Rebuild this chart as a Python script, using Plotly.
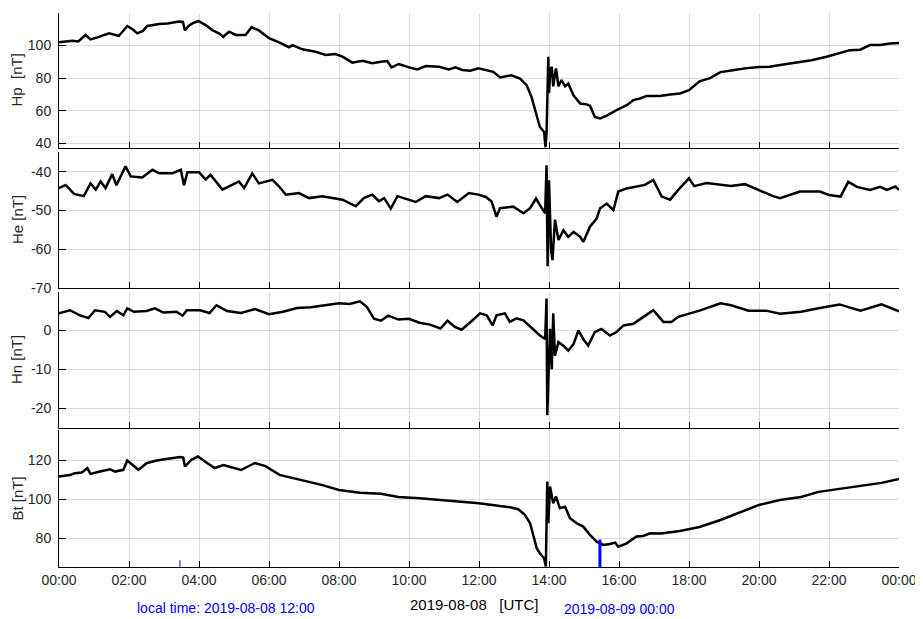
import pandas as pd
import plotly.graph_objects as go

# ---------------- data (hours UTC since 2019-08-08 00:00, values in nT) -------------
hp_h = [0, 0.19, 0.38, 0.55, 0.76, 0.9, 1.1, 1.43, 1.6, 1.71, 1.95, 2.1, 2.24, 2.4, 2.52, 2.86, 3.1,
        3.43, 3.54, 3.6, 3.7, 3.81, 3.98, 4.19, 4.38, 4.57, 4.69, 4.86, 5.05, 5.33, 5.5, 5.71, 6.0,
        6.29, 6.57, 6.67, 6.95, 7.33, 7.62, 7.9, 8.1, 8.38, 8.67, 8.95, 9.2, 9.38, 9.5, 9.71, 10.0,
        10.24, 10.48, 10.86, 11.14, 11.33, 11.52, 11.75, 11.98, 12.2, 12.41, 12.6, 12.93, 13.17,
        13.36, 13.5, 13.6, 13.74, 13.86, 13.9, 13.93, 13.98, 14.0, 14.04, 14.08, 14.12, 14.2, 14.27,
        14.36, 14.46, 14.55, 14.7, 14.89, 15.05, 15.17, 15.31, 15.46, 15.65, 15.93, 16.22, 16.41,
        16.6, 16.79, 17.17, 17.46, 17.74, 18.0, 18.3, 18.6, 18.9, 19.3, 19.6, 20.0, 20.3, 20.6,
        21.17, 21.5, 21.93, 22.31, 22.6, 22.89, 23.17, 23.46, 23.74, 24.0]
hp_v = [102, 102.5, 103, 102.5, 106.5, 103.8, 105, 107.5, 106.5, 105.9, 112, 110, 107.5, 109, 112,
        113.2, 113.5, 114.7, 114.5, 109.3, 112, 113.6, 115.1, 112.6, 109.5, 107.5, 105.4, 108.5,
        106.5, 106.5, 111.2, 109.3, 104.5, 102, 99, 100.3, 97.7, 96.2, 94.2, 94.8, 93.2, 89.5, 90.7,
        89.1, 90, 90.5, 86.6, 88.7, 86.6, 85.4, 87.4, 87, 85.4, 86.6, 85, 84.5, 86, 85, 83.9, 80.4,
        81.8, 79.8, 75.7, 68.5, 60.3, 50, 47, 37.7, 46, 93.1, 71, 85, 87, 75, 86, 75, 78.8, 75,
        76.7, 69.5, 64.4, 64, 63, 56.2, 55.2, 57, 60.3, 63.4, 66.5, 67.5, 69.1, 69, 70, 70.6, 72.6,
        78, 80, 83.7, 85, 86, 86.8, 87, 88, 90, 91, 93.1, 95.2, 97.2, 97.5, 100.3, 100.3, 101.3,
        101.6]

he_h = [0, 0.19, 0.43, 0.71, 0.9, 1.05, 1.19, 1.33, 1.52, 1.64, 1.9, 2.05, 2.38, 2.67, 2.86, 3.24,
        3.48, 3.57, 3.67, 4.0, 4.19, 4.33, 4.67, 4.95, 5.14, 5.29, 5.52, 5.71, 6.1, 6.29, 6.48,
        6.86, 7.14, 7.52, 7.9, 8.1, 8.48, 8.71, 8.95, 9.14, 9.29, 9.48, 9.67, 10.0, 10.19, 10.48,
        10.86, 11.1, 11.38, 11.71, 11.98, 12.2, 12.36, 12.5, 12.6, 12.98, 13.27, 13.46, 13.63,
        13.74, 13.89, 13.93, 13.96, 14.0, 14.06, 14.1, 14.17, 14.27, 14.41, 14.55, 14.7, 14.89,
        14.98, 15.17, 15.36, 15.46, 15.65, 15.84, 15.98, 16.22, 16.5, 16.74, 16.98, 17.22, 17.46,
        17.7, 18.0, 18.15, 18.5, 19.2, 19.6, 20.0, 20.4, 20.6, 21.17, 21.74, 22.0, 22.33, 22.55,
        22.8, 23.17, 23.46, 23.65, 23.9, 24.0]
he_v = [-44.2, -43.4, -45.7, -46.3, -43, -44.6, -42.5, -44.2, -40.6, -43.5, -38.6, -41.2, -41.5,
        -39.5, -40.4, -40.4, -39.5, -43.5, -40.1, -40.1, -42, -40.8, -44.6, -43.4, -42.5, -44.2,
        -40.4, -43, -42.1, -43.8, -45.9, -45.5, -46.8, -46.3, -46.8, -47.2, -48.9, -46.8, -45.9,
        -47.6, -46.8, -49.5, -46.3, -47.2, -47.8, -46.3, -46.8, -45.9, -47.8, -45.5, -45.9, -46.5,
        -47.7, -51.6, -49.4, -49, -50.7, -49.4, -46.9, -48.6, -50.7, -38.3, -64.4, -42.2, -60.2,
        -62.8, -52.4, -57.6, -55.1, -56.8, -55.5, -56.8, -58.1, -54.2, -52.1, -49.4, -48.2, -49.9,
        -45.1, -44.3, -43.8, -43.4, -42.1, -46.4, -47.2, -44.6, -41.7, -43.7, -42.9, -43.7, -43.2,
        -44.7, -46.3, -46.8, -45.1, -45.1, -46, -46.4, -42.6, -43.9, -44.7, -43.9, -44.7, -43.8,
        -44.7]

hn_h = [0, 0.31, 0.6, 0.84, 1.03, 1.31, 1.46, 1.65, 1.84, 1.95, 2.14, 2.5, 2.74, 2.98, 3.36, 3.53,
        3.65, 4.03, 4.3, 4.5, 4.8, 5.2, 5.6, 6.0, 6.4, 6.8, 7.2, 7.6, 8.0, 8.3, 8.6, 8.8, 9.0, 9.2,
        9.4, 9.7, 10.0, 10.3, 10.6, 10.9, 11.1, 11.3, 11.5, 11.8, 12.03, 12.22, 12.39, 12.5, 12.74,
        12.88, 13.07, 13.27, 13.6, 13.74, 13.89, 13.93, 13.95, 14.0, 14.03, 14.08, 14.12, 14.17,
        14.27, 14.41, 14.55, 14.7, 14.84, 14.98, 15.12, 15.31, 15.5, 15.74, 15.93, 16.13, 16.41,
        16.7, 16.98, 17.27, 17.5, 17.69, 18.3, 18.9, 19.2, 19.7, 20.2, 20.6, 21.2, 21.7, 22.3,
        22.9, 23.5, 24.0]
hn_v = [4.4, 5.2, 3.9, 3.2, 5.2, 4.8, 3.5, 5.0, 3.9, 5.7, 4.8, 5.0, 5.7, 4.6, 4.8, 3.8, 5.2, 5.2,
        4.5, 6.5, 5.0, 4.5, 5.5, 4.2, 4.8, 5.8, 6.0, 6.5, 7.0, 6.8, 7.5, 6.0, 3.0, 2.5, 3.8, 2.8,
        3.0, 2.0, 1.5, 0.5, 2.5, 1.0, 0.2, 2.5, 4.4, 3.9, 1.3, 3.9, 4.4, 2.2, 3.1, 2.6, 0, -1.3,
        -2.2, 8.2, -21.8, -5.7, 0.4, -10, 4.4, -6.5, -3, -3.9, -5.2, -3.5, 0, -2.2, -3.9, -0.4,
        0.4, -1.3, -0.4, 1.3, 1.7, 3.5, 5.2, 2.2, 2.2, 3.5, 5.1, 7.0, 6.5, 5.1, 5.1, 4.3, 4.8, 5.7,
        6.7, 5.1, 6.7, 4.9]

bt_h = [0, 0.31, 0.45, 0.65, 0.81, 0.9, 1.17, 1.46, 1.6, 1.84, 1.95, 2.12, 2.27, 2.5, 2.79, 3.07,
        3.45, 3.55, 3.6, 3.78, 3.97, 4.2, 4.45, 4.7, 5.2, 5.6, 5.9, 6.3, 6.9, 7.5, 8.0, 8.6, 9.2,
        9.7, 10.3, 10.9, 11.5, 12.0, 12.6, 12.89, 13.12, 13.31, 13.46, 13.55, 13.65, 13.74, 13.86,
        13.91, 13.95, 13.98, 14.03, 14.12, 14.2, 14.31, 14.46, 14.6, 14.79, 14.98, 15.17, 15.36,
        15.55, 15.74, 15.89, 15.98, 16.22, 16.5, 16.69, 16.89, 17.2, 17.74, 18.3, 18.9, 19.5, 20.0,
        20.6, 21.2, 21.7, 22.3, 22.9, 23.5, 24.0]
bt_v = [111.6, 112.4, 113.3, 113.7, 115.9, 113, 114.2, 115.4, 114.2, 115.1, 119.9, 117.6, 115.1,
        118.5, 119.9, 120.6, 121.6, 121.3, 116.8, 120.2, 121.9, 119, 116, 117.5, 115, 118.6, 117,
        112.5, 110, 107.4, 104.8, 103.3, 102.8, 101.2, 100.5, 99.6, 99, 98, 96.5, 95.9, 94.9, 92,
        87.7, 81.7, 74.9, 72.3, 69.8, 65.5, 109.1, 87.7, 106.5, 98, 101.4, 95.4, 96.2, 90.3, 87.7,
        86, 81.7, 78.3, 76.6, 77.1, 77.8, 75.7, 77.4, 80.9, 81.2, 82.6, 82.5, 83.8, 85.8, 89.4,
        93.5, 97.1, 99.6, 101.2, 103.8, 105.3, 106.8, 108.4, 110.4]

panel_titles = ["Hp\u00a0\u00a0[nT]", "He [nT]", "Hn [nT]", "Bt [nT]"]
y_ranges = [[37.1, 120], [-70, -34.9], [-25.1, 9.9], [65.3, 135.5]]
y_ticks = [[40, 60, 80, 100, 120], [-70, -60, -50, -40], [-20, -10, 0], [80, 100, 120]]
local_marks_h = [3.455, 15.455]   # local noon / local midnight (UTC hours)
x_tick_labels = ["00:00", "02:00", "04:00", "06:00", "08:00", "10:00", "12:00",
                 "14:00", "16:00", "18:00", "20:00", "22:00", "00:00"]

# ---------------- figure ----------------
# the page body has an 8px margin, so the figure is 915x611 and offset accordingly
t0 = pd.Timestamp("2019-08-08 00:00:00")
def to_time(hours):
    return [t0 + pd.Timedelta(hours=h) for h in hours]

series = [(hp_h, hp_v), (he_h, he_v), (hn_h, hn_v), (bt_h, bt_v)]
domains = [[0.7563, 1.0], [0.5036, 0.7491], [0.2509, 0.4964], [0.0, 0.2473]]
FONT = "Arial, 'Liberation Sans', Helvetica, sans-serif"
TXT = "#262626"

fig = go.Figure()
for i, (h, v) in enumerate(series):
    n = "" if i == 0 else str(i + 1)
    fig.add_trace(go.Scatter(x=to_time(h), y=v, mode="lines",
                             line=dict(color="black", width=2.5),
                             xaxis="x" + n, yaxis="y" + n, showlegend=False))

tickvals = [t0 + pd.Timedelta(hours=2 * k) for k in range(13)]
xrange_ = [t0, t0 + pd.Timedelta(hours=24)]
layout = dict(width=915, height=611, paper_bgcolor="white", plot_bgcolor="white",
              margin=dict(l=51, r=24, t=5, b=52, autoexpand=False),
              font=dict(family=FONT, size=14, color=TXT), showlegend=False)
for i in range(4):
    n = "" if i == 0 else str(i + 1)
    layout["xaxis" + n] = dict(
        domain=[0, 1], anchor="y" + n, range=xrange_, tickvals=tickvals,
        ticktext=x_tick_labels, showticklabels=(i == 3), ticks="inside", ticklen=6,
        tickcolor="black", showline=True, linecolor="black", linewidth=1,
        showgrid=True, gridcolor="#dcdcdc", gridwidth=1, zeroline=False,
        ticklabeloverflow="allow",
        matches=None if i == 0 else "x", tickfont=dict(size=14, color=TXT))
    layout["yaxis" + n] = dict(
        domain=domains[i], anchor="x" + n, range=y_ranges[i], tickvals=y_ticks[i],
        ticktext=[str(v) for v in y_ticks[i]],
        ticks="inside", ticklen=7, tickcolor="black", showline=True, linecolor="black",
        linewidth=1, showgrid=True, gridcolor="#dcdcdc", gridwidth=1, zeroline=False,
        ticklabelstandoff=4, tickfont=dict(size=14, color=TXT))
fig.update_layout(**layout)

# y-axis titles
for i, title in enumerate(panel_titles):
    d = domains[i]
    fig.add_annotation(text=title, xref="paper", yref="paper", x=-0.05, y=(d[0] + d[1]) / 2,
                       textangle=-90, showarrow=False, xanchor="center", yanchor="middle",
                       font=dict(size=15, color=TXT))

# local-time markers on the bottom panel
for k, h in enumerate(local_marks_h):
    t = t0 + pd.Timedelta(hours=h)
    fig.add_shape(type="line", xref="x4", yref="y4 domain", x0=t, x1=t, y0=0,
                  y1=0.05 if k == 0 else 0.2,
                  line=dict(color="#0000ff", width=1 if k == 0 else 3))

fig.add_annotation(text="2019-08-08\u00a0\u00a0\u00a0[UTC]", xref="paper", yref="paper",
                   x=0.494, y=-0.0668, showarrow=False, xanchor="center", yanchor="middle",
                   font=dict(size=15, color="black"))
fig.add_annotation(text="local time: 2019-08-08 12:00", xref="paper", yref="paper",
                   x=0.0905, y=-0.074, showarrow=False, xanchor="left", yanchor="middle",
                   font=dict(size=14, color="#0000ff"))
fig.add_annotation(text="2019-08-09 00:00", xref="paper", yref="paper",
                   x=0.599, y=-0.0758, showarrow=False, xanchor="left", yanchor="middle",
                   font=dict(size=14, color="#0000ff"))

fig.write_html("out.html")
